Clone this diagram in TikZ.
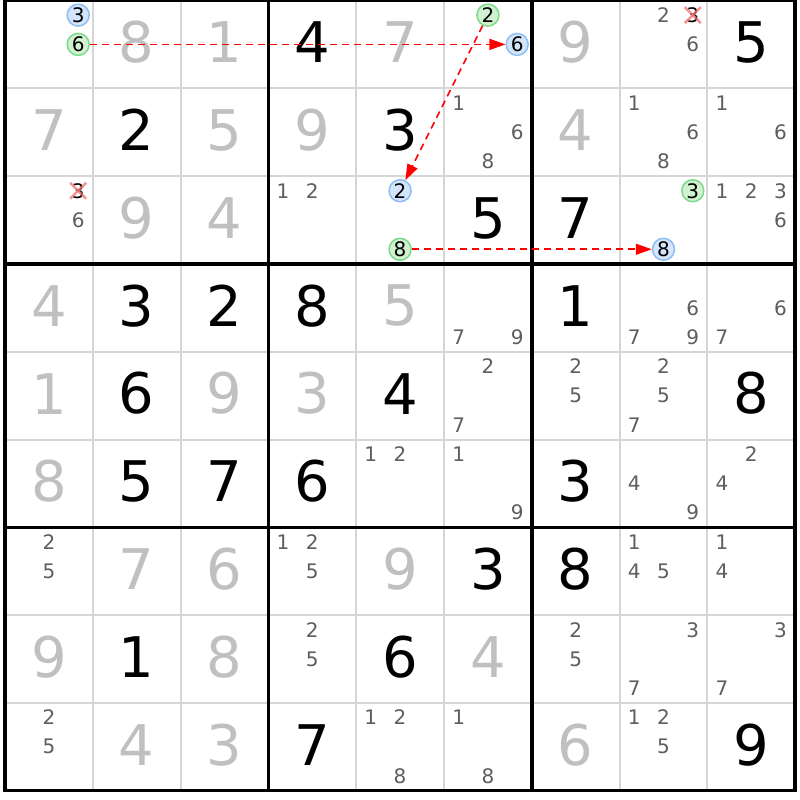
\documentclass[tikz,border=0pt]{standalone}
\usepackage{fontspec}
\setmainfont{DejaVu Sans}
\usetikzlibrary{arrows.meta}
\definecolor{givengray}{HTML}{C0C0C0}
\definecolor{candgray}{HTML}{5E5E5E}
\definecolor{gridgray}{HTML}{D6D6D6}
\definecolor{bluefill}{HTML}{D2E5FB}
\definecolor{blueline}{HTML}{8FBEF2}
\definecolor{greenfill}{HTML}{D0F2D0}
\definecolor{greenline}{HTML}{80D88B}
\definecolor{linkred}{HTML}{FF0000}
\definecolor{crossred}{HTML}{F07070}
\newcommand\cellxy[2]{%
  \pgfmathsetmacro\xx{5+(#2-0.5)*87.8}%
  \pgfmathsetmacro\yy{0.5+(#1-0.5)*87.8-2}}
\newcommand\candxy[3]{%
  \pgfmathsetmacro\xx{5+(#2-1)*87.8+(mod(#3-1,3)+0.5)*29.27}%
  \pgfmathsetmacro\yy{0.5+(#1-1)*87.8+(floor((#3-1)/3)+0.5)*29.27}}
\begin{document}
\begin{tikzpicture}[x=1pt,y=-1pt,
  big/.style={font=\fontsize{56}{56}\selectfont, inner sep=0pt},
  given/.style={big, text=givengray},
  solved/.style={big, text=black},
  cand/.style={font=\fontsize{20}{20}\selectfont, inner sep=0pt, text=candgray},
  crossed/.style={font=\fontsize{20}{20}\selectfont, inner sep=0pt, text=black},
  bluec/.style={circle, draw=blueline, fill=bluefill, line width=1.5pt,
    minimum size=22pt, inner sep=0pt, font=\fontsize{20}{20}\selectfont, text=black},
  greenc/.style={bluec, draw=greenline, fill=greenfill},
  thinline/.style={draw=gridgray, line width=2pt},
  thickline/.style={draw=black, line width=3.5pt},
  xmark/.style={draw=crossred, line width=2.4pt, opacity=0.75},
  link/.style={draw=linkred, line width=1.6pt, dash pattern=on 7pt off 5pt,
    -{Triangle[length=16pt,width=11pt]}}]
\useasboundingbox[fill=white] (0,0) rectangle (800,800);
% thin grid lines
\foreach \i in {1,2,4,5,7,8}{
  \draw[thinline] ({5+\i*87.8},0.5) -- ({5+\i*87.8},790.7);
  \draw[thinline] (5,{0.5+\i*87.8}) -- (795.2,{0.5+\i*87.8});
}
% thick grid lines
\foreach \i in {3,6}{
  \draw[thickline] ({5+\i*87.8},0.5) -- ({5+\i*87.8},790.7);
  \draw[thickline] (5,{0.5+\i*87.8}) -- (795.2,{0.5+\i*87.8});
}
\draw[thickline] (5,0.5) rectangle (795.2,790.7);
% given digits
\foreach \r/\c/\d in {1/2/8,1/3/1,1/5/7,1/7/9,2/1/7,2/3/5,2/4/9,2/7/4,3/2/9,3/3/4,
  4/1/4,4/5/5,5/1/1,5/3/9,5/4/3,6/1/8,7/2/7,7/3/6,7/5/9,8/1/9,8/3/8,8/6/4,
  9/2/4,9/3/3,9/7/6}{
  \cellxy{\r}{\c}
  \node[given] (giv-\r-\c) at (\xx,\yy) {\d};
}
% solved digits
\foreach \r/\c/\d in {1/4/4,1/9/5,2/2/2,2/5/3,3/6/5,3/7/7,4/2/3,4/3/2,4/4/8,4/7/1,
  5/2/6,5/5/4,5/9/8,6/2/5,6/3/7,6/4/6,6/7/3,7/6/3,7/7/8,8/2/1,8/5/6,9/4/7,9/9/9}{
  \cellxy{\r}{\c}
  \node[solved] (sol-\r-\c) at (\xx,\yy) {\d};
}
% plain candidates
\foreach \r/\c/\d in {1/8/2,1/8/6,
  2/6/1,2/6/6,2/6/8,2/8/1,2/8/6,2/8/8,2/9/1,2/9/6,
  3/1/6,3/4/1,3/4/2,3/9/1,3/9/2,3/9/3,3/9/6,
  4/6/7,4/6/9,4/8/6,4/8/7,4/8/9,4/9/6,4/9/7,
  5/6/2,5/6/7,5/7/2,5/7/5,5/8/2,5/8/5,5/8/7,
  6/5/1,6/5/2,6/6/1,6/6/9,6/8/4,6/8/9,6/9/2,6/9/4,
  7/1/2,7/1/5,7/4/1,7/4/2,7/4/5,7/8/1,7/8/4,7/8/5,7/9/1,7/9/4,
  8/4/2,8/4/5,8/7/2,8/7/5,8/8/3,8/8/7,8/9/3,8/9/7,
  9/1/2,9/1/5,9/5/1,9/5/2,9/5/8,9/6/1,9/6/8,9/8/1,9/8/2,9/8/5}{
  \candxy{\r}{\c}{\d}
  \node[cand] (cand-\r-\c-\d) at (\xx,\yy) {\d};
}
% crossed-out candidates
\foreach \r/\c/\d in {3/1/3,1/8/3}{
  \candxy{\r}{\c}{\d}
  \node[crossed] (crs-\r-\c-\d) at (\xx,\yy) {\d};
  \draw[xmark] (crs-\r-\c-\d.center) ++(-8,-8) -- ++(16,16);
  \draw[xmark] (crs-\r-\c-\d.center) ++(-8,8) -- ++(16,-16);
}
% highlighted candidates
\candxy{1}{1}{3}\node[bluec] (blu-1-1-3) at (\xx,\yy) {3};
\candxy{1}{6}{6}\node[bluec] (blu-1-6-6) at (\xx,\yy) {6};
\candxy{3}{5}{2}\node[bluec] (blu-3-5-2) at (\xx,\yy) {2};
\candxy{3}{8}{8}\node[bluec] (blu-3-8-8) at (\xx,\yy) {8};
\candxy{1}{1}{6}\node[greenc] (grn-1-1-6) at (\xx,\yy) {6};
\candxy{1}{6}{2}\node[greenc] (grn-1-6-2) at (\xx,\yy) {2};
\candxy{3}{5}{8}\node[greenc] (grn-3-5-8) at (\xx,\yy) {8};
\candxy{3}{8}{3}\node[greenc] (grn-3-8-3) at (\xx,\yy) {3};
% links
\draw[link] (grn-1-1-6) -- (blu-1-6-6);
\draw[link] (grn-1-6-2) -- (blu-3-5-2);
\draw[link] (grn-3-5-8) -- (blu-3-8-8);
\end{tikzpicture}
\end{document}
